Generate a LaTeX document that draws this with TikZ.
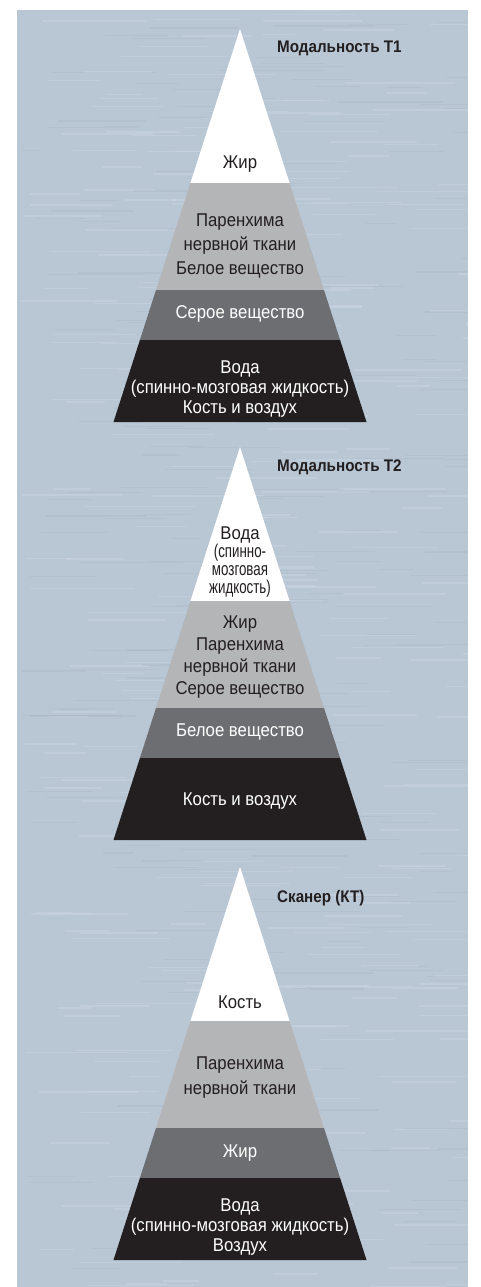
\documentclass[tikz,border=0pt]{standalone}
\usepackage{fontspec}
\setmainfont{Liberation Sans}[FakeStretch=0.905]
\newfontfamily\narrowfont{Liberation Sans}[FakeStretch=0.72]
\usepackage{tikz}
\usetikzlibrary{positioning}

\definecolor{panel}{RGB}{185,199,213}
\definecolor{bandlight}{RGB}{180,181,183}
\definecolor{bandmid}{RGB}{109,110,114}
\definecolor{banddark}{RGB}{35,31,32}

\begin{document}
\begin{tikzpicture}[x=1pt, y=-1pt,
    txt/.style={align=center, inner sep=0pt, text=banddark,
      font=\fontsize{18.5}{20}\selectfont},
    inv/.style={text=white},
    head/.style={anchor=base west, inner sep=0pt, text=banddark,
      font=\bfseries\fontsize{16.8}{18}\selectfont}]
    \useasboundingbox (0,0) rectangle (480,1287);
    \fill[white] (0,0) rectangle (480,1287);
    \fill[panel] (17,10) rectangle (468,1287);
    % streaks of the background
    \pgfmathsetseed{7}
    \begin{scope}
    \clip (17,10) rectangle (468,1287);
    \foreach \i in {1,...,300}
        \draw[white, opacity=0.12, line width=1.5pt]
            ({17+451*rnd},{10+1277*rnd}) -- ++({30+80*rnd},0);
    \foreach \i in {1,...,200}
        \draw[banddark, opacity=0.04, line width=1.2pt]
            ({17+451*rnd},{10+1277*rnd}) -- ++({30+80*rnd},0);
    \end{scope}
    % the three pyramids
    \foreach \t in {29,447,867} {
        \fill[white] (240,\t) -- (289.6,\t+154) -- (190.4,\t+154) -- cycle;
        \fill[bandlight] (190.4,\t+154) -- (289.6,\t+154)
            -- (324,\t+261) -- (156,\t+261) -- cycle;
        \fill[bandmid] (156,\t+261) -- (324,\t+261)
            -- (340.1,\t+311) -- (139.9,\t+311) -- cycle;
        \fill[banddark] (139.9,\t+311) -- (340.1,\t+311)
            -- (366.5,\t+393) -- (113.5,\t+393) -- cycle;
    }
    \node (h1) [head] at (277,52.7) {Модальность Т1};
    \node (w1) [txt] at (240,164) {Жир};
    \node (l1) [txt, font=\fontsize{18.5}{24}\selectfont] at (240,246)
        {Паренхима\\нервной ткани\\Белое вещество};
    \node (m1) [txt, inv] at (240,314) {Серое вещество};
    \node (d1) [txt, inv] at (240,389)
        {Вода\\(спинно-мозговая жидкость)\\Кость и воздух};
    \node (h2) [head] at (277,471.7) {Модальность Т2};
    \node (w2) [txt, font=\fontsize{18.5}{18}\selectfont] at (240,562)
        {Вода\\\narrowfont(спинно-\\\narrowfont мозговая\\\narrowfont жидкость)};
    \node (l2) [txt, font=\fontsize{18.5}{21.7}\selectfont] at (240,657)
        {Жир\\Паренхима\\нервной ткани\\Серое вещество};
    \node (m2) [txt, inv] at (240,732) {Белое вещество};
    \node (d2) [txt, inv] at (240,801) {Кость и воздух};
    \node (h3) [head] at (277,902) {Сканер (КТ)};
    \node (w3) [txt] at (240,1002) {Кость};
    \node (l3) [txt, font=\fontsize{18.5}{25}\selectfont] at (240,1078)
        {Паренхима\\нервной ткани};
    \node (m3) [txt, inv] at (240,1153) {Жир};
    \node (d3) [txt, inv] at (240,1227.5)
        {Вода\\(спинно-мозговая жидкость)\\Воздух};
\end{tikzpicture}
\end{document}
